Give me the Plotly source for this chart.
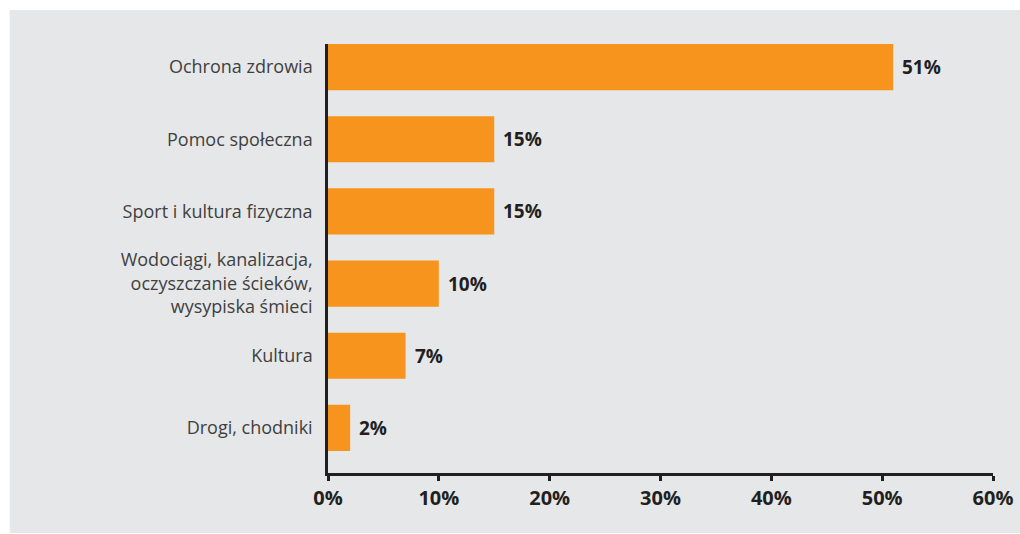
import plotly.graph_objects as go

# Share of spending by area (percent)
categories = [
    "Ochrona zdrowia",
    "Pomoc społeczna",
    "Sport i kultura fizyczna",
    "Wodociągi, kanalizacja,<br>oczyszczanie ścieków,<br>wysypiska śmieci",
    "Kultura",
    "Drogi, chodniki",
]
values = [51, 15, 15, 10, 7, 2]
x_ticks = [0, 10, 20, 30, 40, 50, 60]
x_tick_labels = ["0%", "10%", "20%", "30%", "40%", "50%", "60%"]

W, H = 1020, 534
ML, MR, MT, MB = 327.5, 27, 44, 61
plot_w = W - ML - MR
plot_h = H - MT - MB

BAR = "#F7941D"
DARK = "#231F20"
BG = "#E6E7E8"
FONT = "Open Sans"

fig = go.Figure(
    go.Bar(
        x=values,
        y=categories,
        orientation="h",
        marker=dict(color=BAR, line=dict(width=0)),
        width=0.64,
        hoverinfo="skip",
    )
)

# value labels next to each bar
for v, c in zip(values, categories):
    fig.add_annotation(
        x=v, y=c, text=f"<b>{v}%</b>", showarrow=False,
        xanchor="left", yanchor="middle", xshift=7,
        font=dict(family=FONT, size=19, color=DARK),
    )

# grey panel behind the chart
def px_x(p):
    return (p - ML) / plot_w

def px_y(p):
    return (H - MB - p) / plot_h

fig.add_shape(
    type="rect", xref="paper", yref="paper", layer="below",
    x0=px_x(9), x1=px_x(1021), y0=px_y(533), y1=px_y(10),
    fillcolor=BG, line=dict(width=0),
)

fig.update_layout(
    width=W, height=H,
    margin=dict(l=ML, r=MR, t=MT, b=MB, pad=0, autoexpand=False),
    paper_bgcolor="white",
    plot_bgcolor="rgba(0,0,0,0)",
    showlegend=False,
    font=dict(family=FONT, color=DARK),
)

fig.update_xaxes(
    range=[0, 60],
    tickvals=x_ticks,
    ticktext=x_tick_labels,
    tickfont=dict(family=FONT, size=20, color=DARK, weight="bold"),
    showgrid=False, zeroline=False,
    showline=True, linecolor=DARK, linewidth=2.5,
    ticks="outside", ticklen=5, tickwidth=2.5, tickcolor=DARK,
    automargin=False,
    fixedrange=True,
)

fig.update_yaxes(
    categoryorder="array",
    categoryarray=categories,
    autorange=False,
    range=[5.625, -0.32],
    tickfont=dict(family=FONT, size=18, color="#404040"),
    showgrid=False, zeroline=False,
    showline=True, linecolor=DARK, linewidth=2.5,
    ticks="outside", ticklen=9, tickcolor="rgba(0,0,0,0)",
    automargin=False,
    fixedrange=True,
)

fig.write_html("out.html", config={"displayModeBar": False})
